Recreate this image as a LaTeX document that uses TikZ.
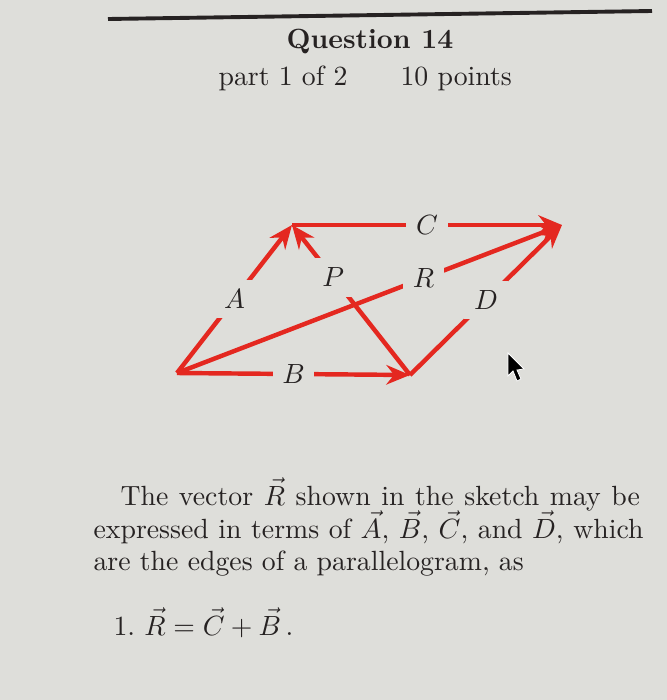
\documentclass[tikz,border=0pt]{standalone}
\usetikzlibrary{arrows.meta}

\definecolor{paper}{RGB}{222,222,218}
\definecolor{vecred}{RGB}{228,40,32}
\definecolor{ink}{RGB}{38,34,34}

\begin{document}
\begin{tikzpicture}[x=0.36pt,y=-0.36pt,
    vec/.style={draw=vecred,line width=1.6pt,-{Stealth[length=8.5pt,width=7pt]}},
    lbl/.style={fill=paper,inner sep=3.5pt,text=ink},
    txt/.style={anchor=base west,inner sep=0pt,text=ink}]
  \fill[paper] (0,0) rectangle (667,700);
  \useasboundingbox (0,0) rectangle (667,700);

  % heading
  \draw[ink,line width=1.4pt] (108,19) -- (652,11);
  \node (title) [text=ink,inner sep=0pt] at (370,42) {\bfseries Question 14};
  \node (part) [txt] at (218,85) {part 1 of 2};
  \node (pts)  [txt] at (400,85) {10 points};

  % parallelogram
  \coordinate (O) at (177,373);
  \coordinate (Q) at (410,375);
  \coordinate (T) at (292,225);
  \coordinate (S) at (562,225);

  \draw[vec] (O) -- node[lbl] (labA) {$A$} (T);
  \draw[vec] (O) -- node[lbl] (labB) {$B$} (Q);
  \draw[vec] (T) -- node[lbl] (labC) {$C$} (S);
  \draw[vec] (Q) -- node[lbl] (labD) {$D$} (S);
  \draw[vec] (Q) -- node[lbl,pos=0.65] (labP) {$P$} (T);
  \draw[vec] (O) -- node[lbl,pos=0.64] (labR) {$R$} (S);

  % pointer
  \fill[black,draw=white,line width=0.3pt] (508,353) -- (508,376) -- (513,371)
    -- (517,381) -- (521,379) -- (517,370) -- (524,369) -- cycle;

  % question text
  \node (line1) [txt] at (120,505)
    {\makebox[187pt][s]{The vector $\vec R$ shown in the sketch may be}};
  \node (line2) [txt] at (93,538)
    {\makebox[198pt][s]{expressed in terms of $\vec A$, $\vec B$, $\vec C$, and $\vec D$, which}};
  \node (line3) [txt] at (93,570) {are the edges of a parallelogram, as};
  \node (ans) [txt] at (113,635) {1.\ $\vec R=\vec C+\vec B\,.$};
\end{tikzpicture}
\end{document}
